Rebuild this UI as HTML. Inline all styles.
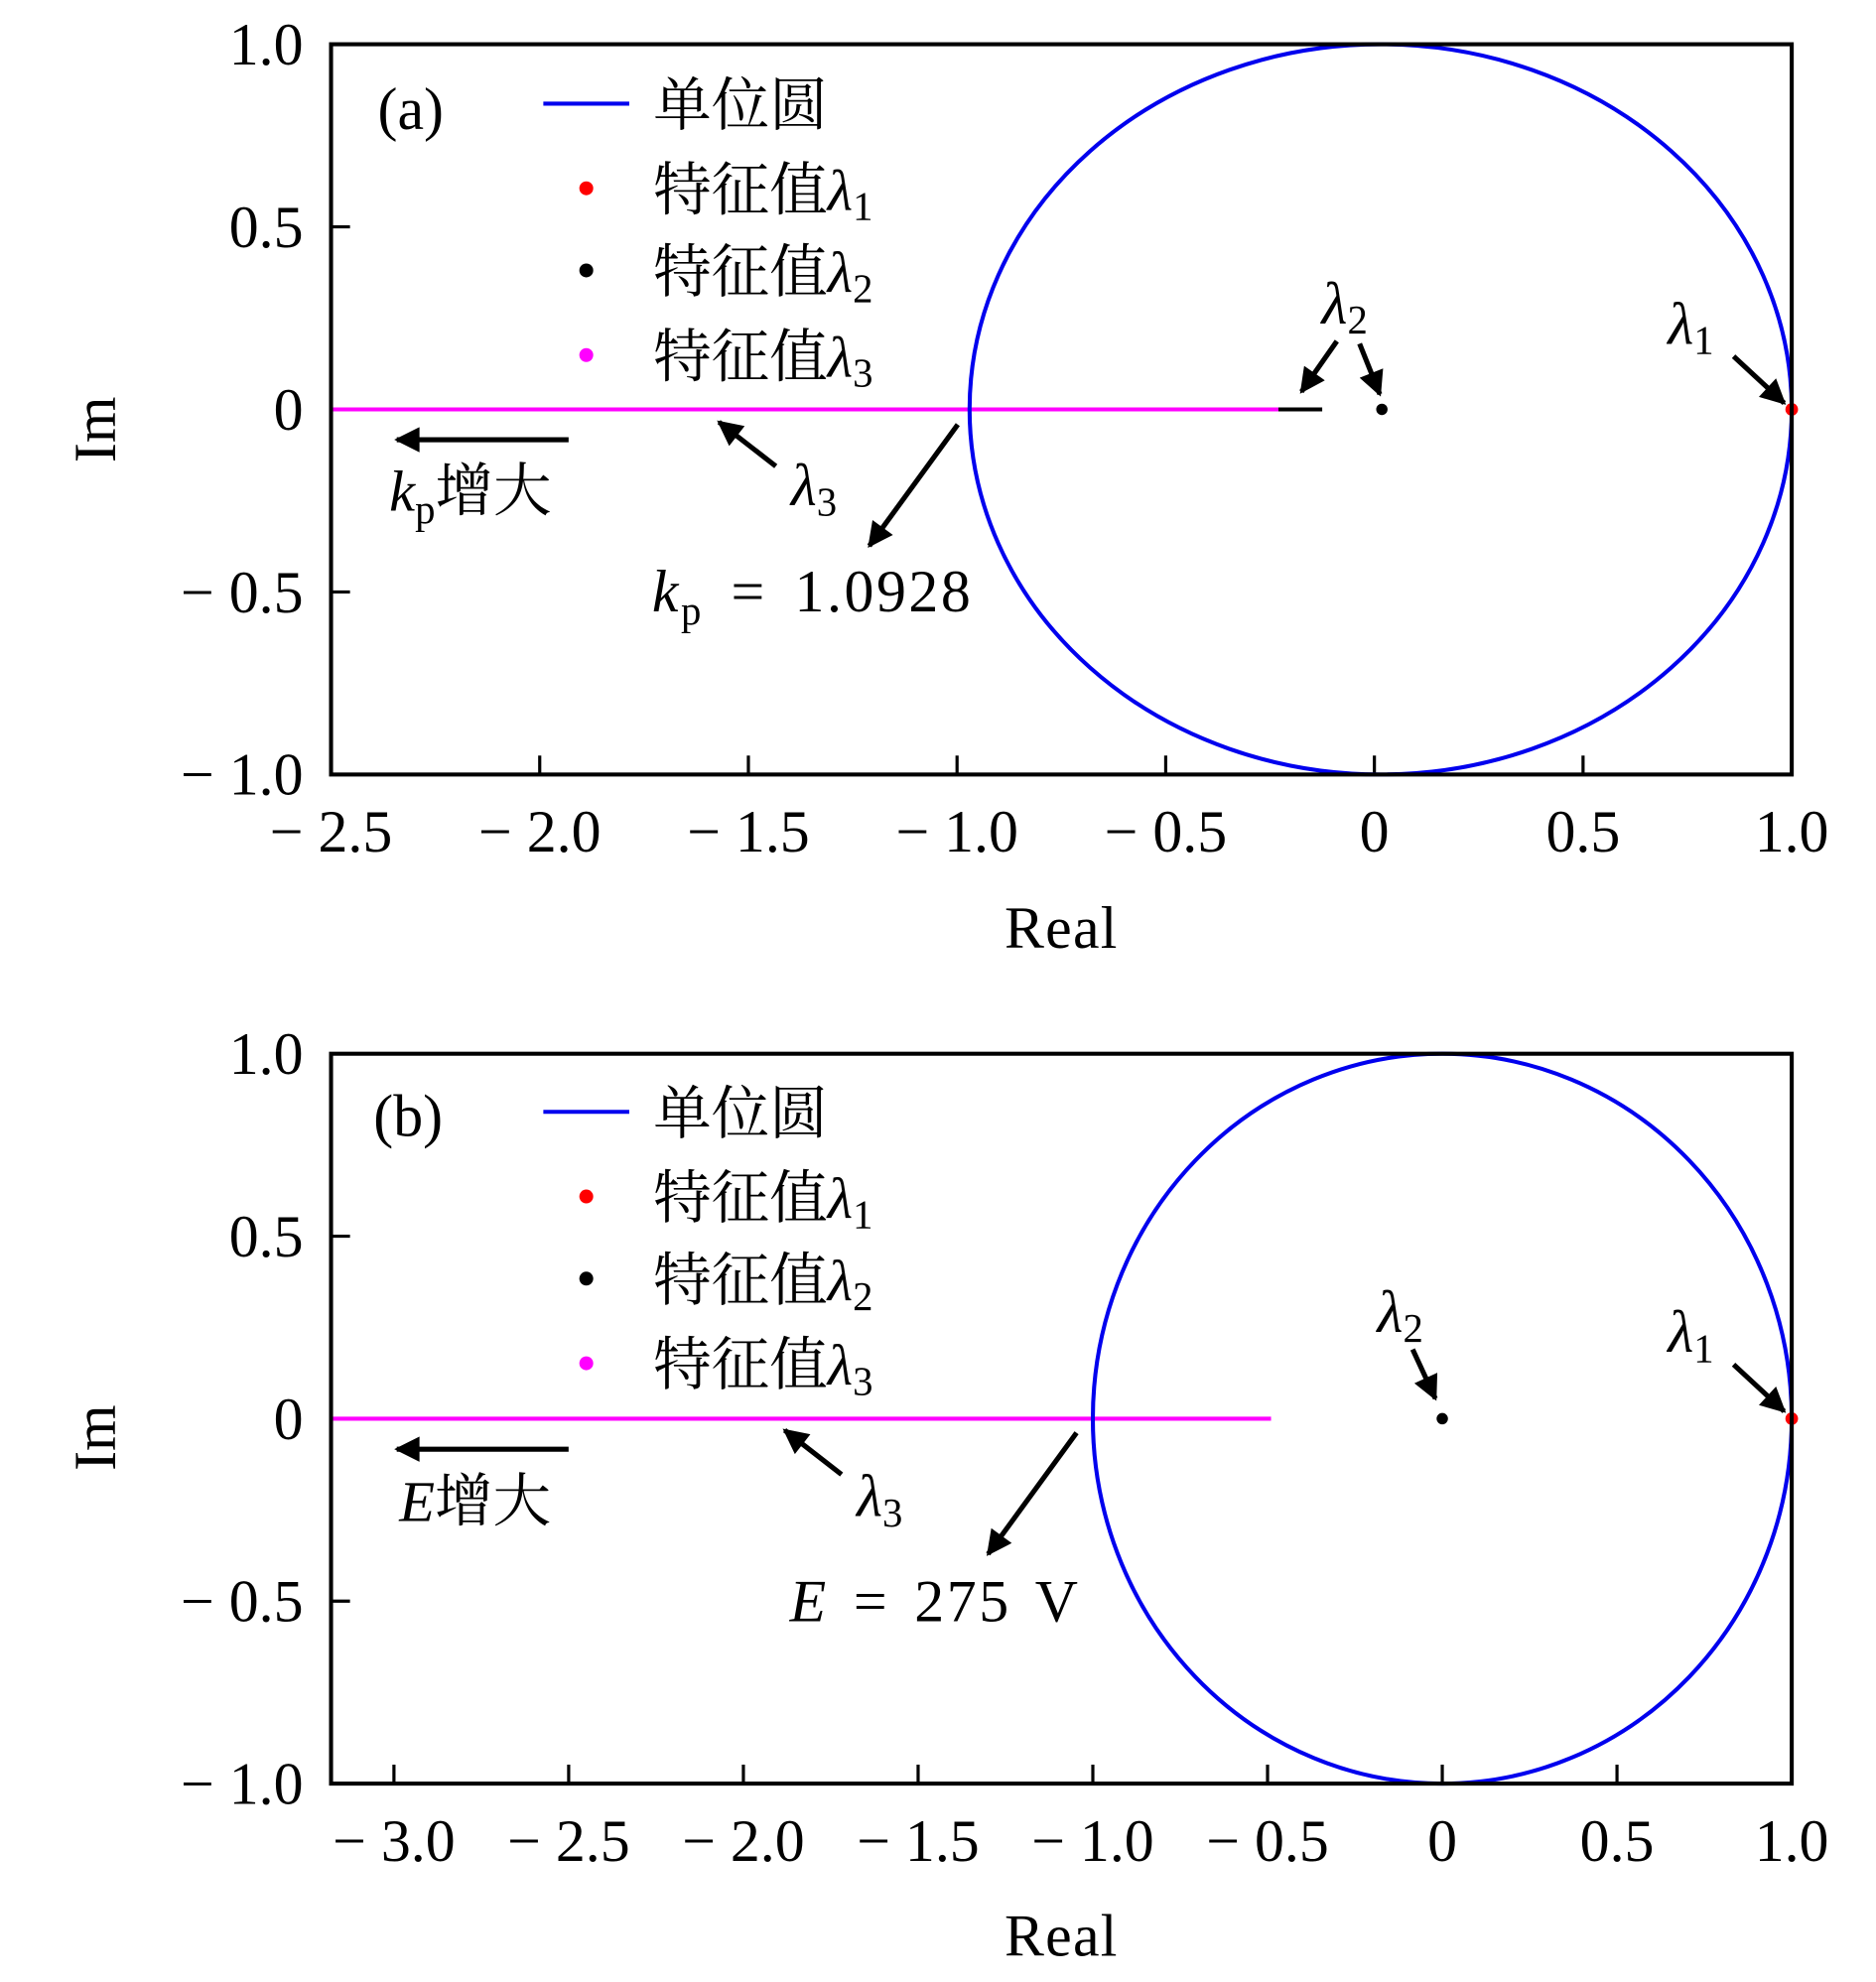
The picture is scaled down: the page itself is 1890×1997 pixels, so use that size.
<!DOCTYPE html>
<html><head><meta charset="utf-8"><style>
html,body{margin:0;padding:0;background:#fff}
svg{display:block}
text{font-family:"Liberation Serif","Noto Serif CJK SC",serif;fill:#000}
.cjk{font-family:"Liberation Serif","Noto Serif CJK SC","Noto Sans CJK SC",serif}
</style></head><body>
<svg id="fig" width="1890" height="1997" viewBox="0 0 1484.7 1568.7" xmlns="http://www.w3.org/2000/svg">
<defs>
<marker id="ah" viewBox="0 0 10 10" refX="9" refY="5" markerWidth="6" markerHeight="5" markerUnits="strokeWidth" orient="auto">
<path d="M0,0 L10,5 L0,10 z" fill="#000"/></marker>
</defs>
</svg>
<script>
// ---- data ----
const yTicks = [1.0, 0.5, 0, -0.5, -1.0];
const yTickLabels = ["1.0","0.5","0","− 0.5","− 1.0"];
const xTicksA = [-2.5,-2.0,-1.5,-1.0,-0.5,0,0.5,1.0];
const xTickLabelsA = ["− 2.5","− 2.0","− 1.5","− 1.0","− 0.5","0","0.5","1.0"];
const xTicksB = [-3.0,-2.5,-2.0,-1.5,-1.0,-0.5,0,0.5,1.0];
const xTickLabelsB = ["− 3.0","− 2.5","− 2.0","− 1.5","− 1.0","− 0.5","0","0.5","1.0"];
const circleA = [0.015, 0.985];   // center x, radius x
const circleB = [0, 1.0];
const lambda3A = [-2.5, -0.23];
const lambda2SegA = [-0.23, -0.125];
const lambda2A = [0.018, 0];
const lambda1A = [1.0, 0];
const lambda3B = [-3.18, -0.49];
const lambda2B = [0, 0];
const lambda1B = [1.0, 0];

const NS = "http://www.w3.org/2000/svg";
const svg = document.getElementById('fig');
function mk(tag, attrs, parent){const e=document.createElementNS(NS,tag);for(const k in attrs)e.setAttribute(k,attrs[k]);(parent||svg).appendChild(e);return e;}

function panel(id, top, bottom, xmin, xmax, xTicks, xLabels, circ, l3, seg, l2, l1){
  const L=262, R=1418;
  const g=mk('g',{});
  
  
  const sx=v=>L+(v-xmin)/(xmax-xmin)*(R-L);
  const sy=v=>top+(1-v)/2*(bottom-top);
  xTicks.forEach((t,i)=>{
    const tk=mk('line',{x1:sx(t),x2:sx(t),y1:bottom,y2:bottom-15,stroke:'#000','stroke-width':2.5},g);
    
    
    const tl=mk('text',{x:sx(t),y:bottom+61,'font-size':47,'text-anchor':'middle'},g);
    tl.textContent=xLabels[i];
    
    
  });
  yTicks.forEach((t,i)=>{
    const tk=mk('line',{x1:L,x2:L+15,y1:sy(t),y2:sy(t),stroke:'#000','stroke-width':2.5},g);
    
    
    const tl=mk('text',{x:240,y:sy(t)+16,'font-size':47,'text-anchor':'end'},g);
    tl.textContent=yTickLabels[i];
    
    
  });
  const m=mk('line',{x1:sx(l3[0]),x2:sx(l3[1]),y1:sy(0),y2:sy(0),stroke:'#ff00ff','stroke-width':3.2},g);
  
  
  if(seg){
    const s=mk('line',{x1:sx(seg[0]),x2:sx(seg[1]),y1:sy(0),y2:sy(0),stroke:'#000','stroke-width':3.2},g);
    
    
  }
  const c=mk('ellipse',{cx:sx(circ[0]),cy:sy(0),rx:sx(circ[0]+circ[1])-sx(circ[0]),ry:sy(0)-sy(1),fill:'none',stroke:'#0000ee','stroke-width':3.2},g);
  
  
  const d2=mk('circle',{cx:sx(l2[0]),cy:sy(l2[1]),r:4.5,fill:'#000'},g);
  
  
  const d1=mk('circle',{cx:sx(l1[0]),cy:sy(l1[1]),r:5,fill:'#ff0000'},g);
  
  
  const f=mk('rect',{x:L,y:top,width:R-L,height:bottom-top,fill:'none',stroke:'#000','stroke-width':3.2},g);
  
  
  return g;
}
panel('a',35,613,-2.5,1.0,xTicksA,xTickLabelsA,circleA,lambda3A,lambda2SegA,lambda2A,lambda1A);
panel('b',834,1411.7,-3.18,1.0,xTicksB,xTickLabelsB,circleB,lambda3B,null,lambda2B,lambda1B);
</script>
<script>
(function(){
  const svg=document.getElementById('fig');
  const NS="http://www.w3.org/2000/svg";
  function add(html){const g=document.createElementNS(NS,'g');g.innerHTML=html;svg.appendChild(g);}
  function arrow(x1,y1,x2,y2,name){return `<line x1="${x1}" y1="${y1}" x2="${x2}" y2="${y2}" stroke="#000" stroke-width="4" marker-end="url(#ah)"/>`;}
  function lam(x,y,sub,name){return `<text x="${x}" y="${y}" font-size="47" font-style="italic">λ<tspan font-size="32" font-style="normal" dy="8">${sub}</tspan></text>`;}
  function legend(y0,name){
    return `<g>
    <line x1="430" x2="498" y1="${y0}" y2="${y0}" stroke="#0000ee" stroke-width="3.2"/>
    <text class="cjk" x="517" y="${y0+17}" font-size="46">单位圆</text>
    <circle cx="464" cy="${y0+67}" r="5.5" fill="#ff0000"/>
    <text class="cjk" x="517" y="${y0+84}" font-size="46">特征值<tspan font-style="italic">λ</tspan><tspan font-size="32" dy="8">1</tspan></text>
    <circle cx="464" cy="${y0+132}" r="5.5" fill="#000"/>
    <text class="cjk" x="517" y="${y0+149}" font-size="46">特征值<tspan font-style="italic">λ</tspan><tspan font-size="32" dy="8">2</tspan></text>
    <circle cx="464" cy="${y0+199}" r="5.5" fill="#ff00ff"/>
    <text class="cjk" x="517" y="${y0+216}" font-size="46">特征值<tspan font-style="italic">λ</tspan><tspan font-size="32" dy="8">3</tspan></text>
    </g>`;
  }
  add(`
  <text x="325" y="102" font-size="47" text-anchor="middle">(a)</text>
  ${legend(82,'legend-a')}
  ${lam(1046,256,'2','lambda2-annotation-a')}
  ${arrow(1058,270,1030,310,'lambda2-arrow-left-a')}
  ${arrow(1076,272,1092,312,'lambda2-arrow-right-a')}
  ${lam(1320,272,'1','lambda1-annotation-a')}
  ${arrow(1372,282,1412,319,'lambda1-arrow-a')}
  ${lam(626,400,'3','lambda3-annotation-a')}
  ${arrow(614,369,569,334,'lambda3-arrow-a')}
  ${arrow(758,336,688,432,'kp-threshold-arrow')}
  <text x="516" y="484" font-size="47" letter-spacing="2"><tspan font-style="italic">k</tspan><tspan font-size="32" dy="10">p</tspan><tspan dy="-10" word-spacing="8"> = 1.0928</tspan></text>
  ${arrow(450,348,314,348,'kp-increase-arrow')}
  <text class="cjk" x="308" y="404" font-size="46"><tspan font-style="italic">k</tspan><tspan font-size="32" dy="10">p</tspan><tspan dy="-10">增大</tspan></text>
  <text x="840" y="750" font-size="47" text-anchor="middle" letter-spacing="1">Real</text>
  <text transform="translate(91,340) rotate(-90)" font-size="47" text-anchor="middle">Im</text>

  <text x="323" y="899" font-size="47" text-anchor="middle">(b)</text>
  ${legend(880,'legend-b')}
  ${lam(1090,1054,'2','lambda2-annotation-b')}
  ${arrow(1118,1068,1136,1107,'lambda2-arrow-b')}
  ${lam(1320,1070,'1','lambda1-annotation-b')}
  ${arrow(1372,1080,1412,1117,'lambda1-arrow-b')}
  ${lam(678,1200,'3','lambda3-annotation-b')}
  ${arrow(666,1167,621,1132,'lambda3-arrow-b')}
  ${arrow(852,1134,782,1230,'e-threshold-arrow')}
  <text x="625" y="1283" font-size="47" letter-spacing="2" word-spacing="6"><tspan font-style="italic">E</tspan> = 275 V</text>
  ${arrow(450,1147,314,1147,'e-increase-arrow')}
  <text class="cjk" x="316" y="1204" font-size="46"><tspan font-style="italic">E</tspan>增大</text>
  <text x="840" y="1548" font-size="47" text-anchor="middle" letter-spacing="1">Real</text>
  <text transform="translate(91,1138) rotate(-90)" font-size="47" text-anchor="middle">Im</text>
  `);
})();
</script>
</body></html>
